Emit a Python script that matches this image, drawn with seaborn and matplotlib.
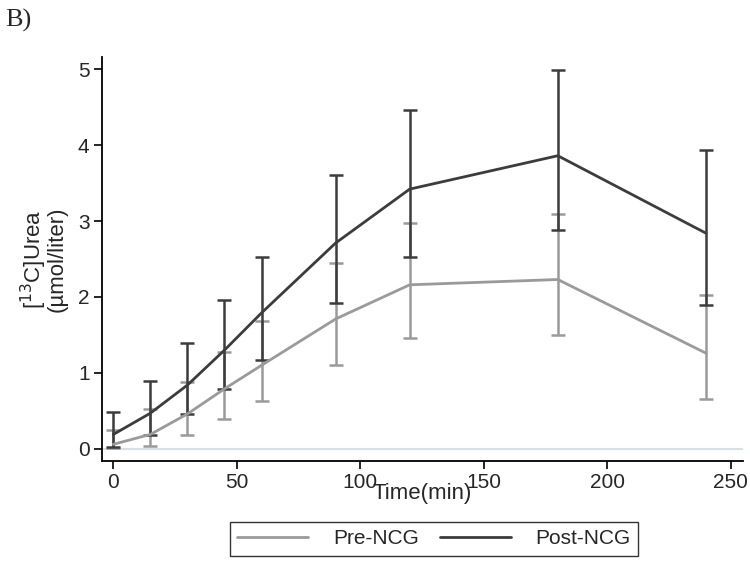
import numpy as np
import pandas as pd
import seaborn as sns
import matplotlib.pyplot as plt

# time points (min)
time_min = [0, 15, 30, 45, 60, 90, 120, 180, 240]

# Pre-NCG: mean and error bar limits (µmol/liter)
pre_mean = [0.06, 0.19, 0.46, 0.79, 1.10, 1.71, 2.16, 2.23, 1.26]
pre_low = [0.01, 0.04, 0.18, 0.39, 0.63, 1.10, 1.46, 1.50, 0.66]
pre_high = [0.25, 0.53, 0.88, 1.27, 1.69, 2.45, 2.98, 3.09, 2.03]

# Post-NCG
post_mean = [0.19, 0.47, 0.84, 1.30, 1.79, 2.71, 3.42, 3.86, 2.84]
post_low = [0.03, 0.18, 0.46, 0.79, 1.17, 1.92, 2.53, 2.88, 1.89]
post_high = [0.48, 0.90, 1.40, 1.96, 2.53, 3.61, 4.46, 4.99, 3.94]

colors = {'Pre-NCG': '#9a9a9a', 'Post-NCG': '#3c3c3c'}

df = pd.concat([
    pd.DataFrame({'Time': time_min, 'Urea': pre_mean, 'lo': pre_low, 'hi': pre_high, 'Group': 'Pre-NCG'}),
    pd.DataFrame({'Time': time_min, 'Urea': post_mean, 'lo': post_low, 'hi': post_high, 'Group': 'Post-NCG'}),
])

sns.set_style('white')
plt.rcParams['font.family'] = ['Liberation Sans', 'DejaVu Sans']

fig = plt.figure(figsize=(7.5, 5.64), dpi=100)
ax = fig.add_axes([102 / 750, 1 - 461 / 564, (743 - 102) / 750, (461 - 57) / 564])

ax.axhline(0, color='#d5e0e8', lw=1.5, zorder=0)

for grp in ['Pre-NCG', 'Post-NCG']:
    d = df[df['Group'] == grp]
    ax.errorbar(d['Time'], d['Urea'],
                yerr=[d['Urea'] - d['lo'], d['hi'] - d['Urea']],
                fmt='none', ecolor=colors[grp], elinewidth=1.8, capsize=5, capthick=1.8)

sns.lineplot(data=df, x='Time', y='Urea', hue='Group', palette=colors,
             errorbar=None, linewidth=2.0, ax=ax, legend=False)

ax.set_xlim(-4.6, 255)
ax.set_ylim(-0.16, 5.16)
ax.set_xticks([0, 50, 100, 150, 200, 250])
ax.set_yticks([0, 1, 2, 3, 4, 5])
ax.tick_params(axis='both', labelsize=15, length=6, width=1.2, direction='out',
               color='black', left=True, bottom=True, pad=3)
for side in ['top', 'right']:
    ax.spines[side].set_visible(False)
for side in ['left', 'bottom']:
    ax.spines[side].set_color('black')
    ax.spines[side].set_linewidth(1.3)

ax.set_xlabel('Time(min)', fontsize=16)
ax.xaxis.set_label_coords(0.5, -0.054)
ax.set_ylabel('[$^{13}$C]Urea\n(µmol/liter)', fontsize=16, linespacing=0.88)
ax.yaxis.set_label_coords(-0.053, 0.5)

handles = [plt.Line2D([], [], color=colors['Pre-NCG'], lw=2),
           plt.Line2D([], [], color=colors['Post-NCG'], lw=2)]
leg = fig.legend(handles, ['Pre-NCG', 'Post-NCG'], loc='center',
                 bbox_to_anchor=(434 / 750, 1 - 539 / 564), ncol=2, fontsize=15,
                 frameon=True, fancybox=False, handlelength=3.4, columnspacing=1.0,
                 borderpad=0.35, handletextpad=1.2)
leg.get_frame().set_edgecolor('black')
leg.get_frame().set_linewidth(1.0)

fig.text(5 / 750, 1 - 20 / 564, 'B)', fontsize=19, family=['Liberation Serif', 'DejaVu Serif'],
         va='center', ha='left')

fig.savefig('out.png', dpi=100)
